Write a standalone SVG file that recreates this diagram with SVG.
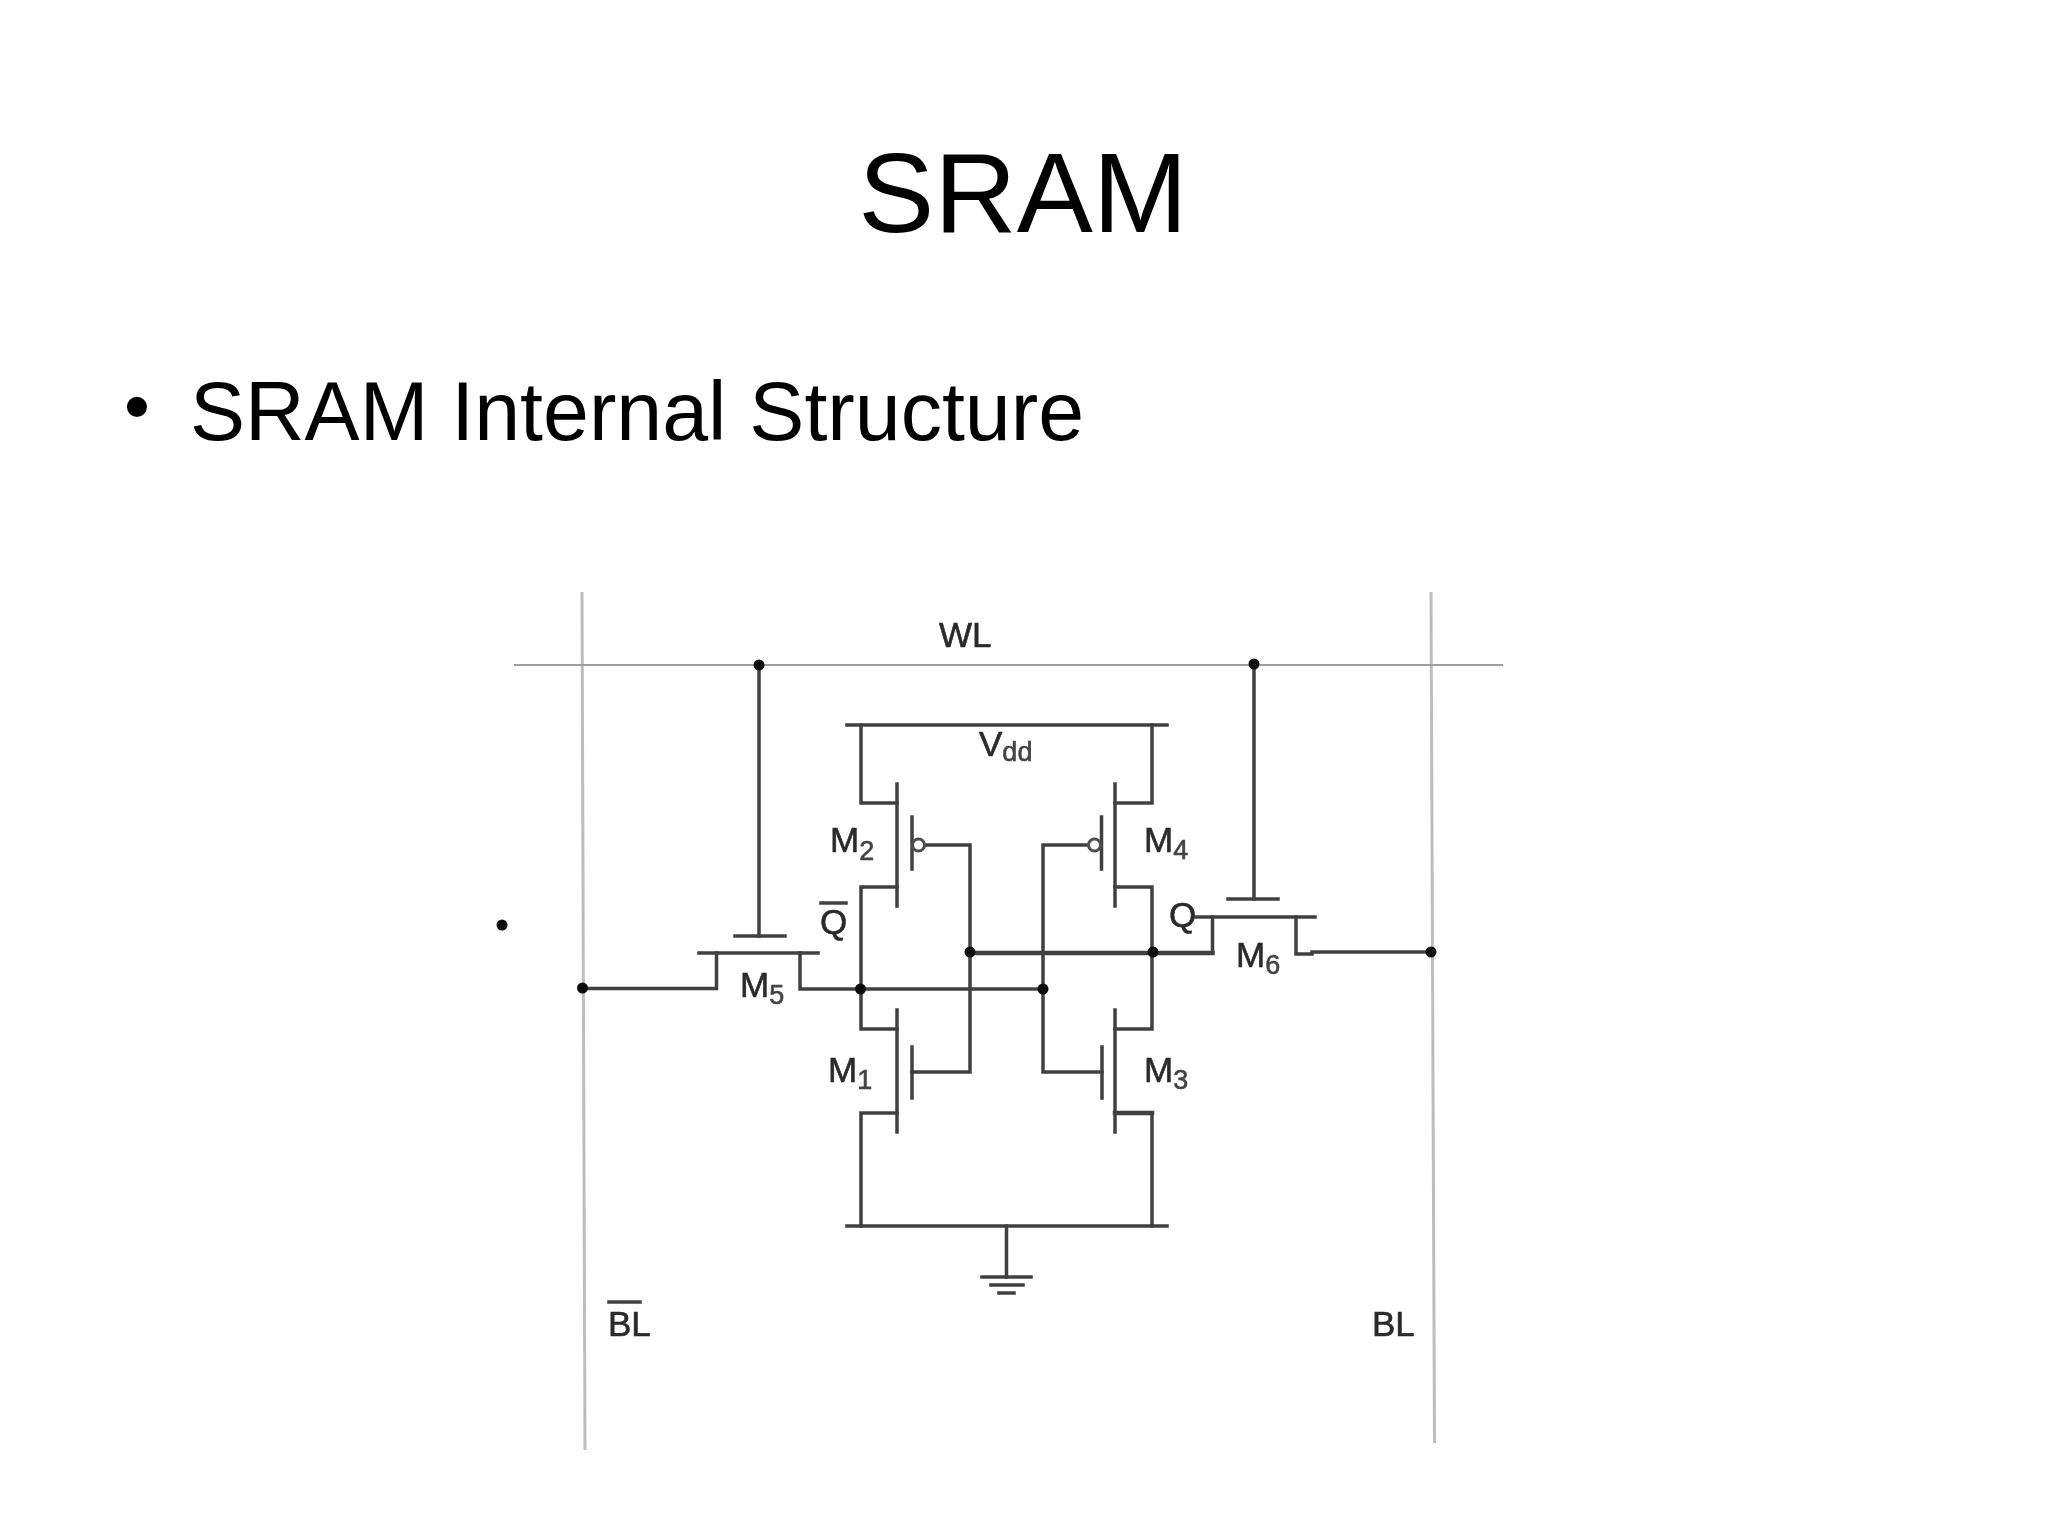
<svg xmlns="http://www.w3.org/2000/svg" width="2048" height="1535" viewBox="0 0 2048 1535">
<defs>
<filter id="soft" x="-5%" y="-5%" width="110%" height="110%"><feGaussianBlur stdDeviation="0.6"/></filter>
<circle id="dot" r="5.5" fill="#111"/>
</defs>
<style>
text{font-family:"Liberation Sans",Arial,sans-serif}
.title{font-size:114px;fill:#000;text-anchor:middle}
.body{font-size:82.500px;fill:#000}
.bullet{font-size:74px;fill:#000}
.lab{font-size:35px;fill:#2a2a2a;stroke:#2a2a2a;stroke-width:0.6}
.sub{font-size:27px;fill:#444;stroke:#444}
.w{fill:none;stroke:#404040;stroke-width:3.500;stroke-linecap:square}
.thick{stroke-width:4.500}
.bit{fill:none;stroke:#bdbdbd;stroke-width:3}
.wl{fill:none;stroke:#a0a0a0;stroke-width:2}
.bubble{fill:#fff;stroke:#505050;stroke-width:3}
</style>
<rect width="2048" height="1535" fill="#fff"/>
<g id="heading">
<text class="title" x="1023" y="232">SRAM</text>
<text class="bullet" x="124" y="432">•</text>
<text class="body" x="190" y="440">SRAM Internal Structure</text>
</g>
<g filter="url(#soft)">
<g id="connectors">
<path class="bit" d="M582 592L585 1450"/>
<path class="bit" d="M1431 592L1434.500 1443"/>
<path class="wl" d="M514 665H1503"/>
<path class="w" d="M759 665V936"/>
<path class="w" d="M1254 664V899"/>
<path class="w" d="M582.500 988.500H716.500V953"/>
<path class="w" d="M800 953V989H1043"/>
<path class="w" d="M861 725V803H897"/>
<path class="w" d="M1152 725V803H1115"/>
<path class="w" d="M897 887H861V1029H897"/>
<path class="w" d="M1115 887H1152V1029H1115"/>
<path class="w" d="M897 1113H861V1226"/>
<path class="w thick" d="M1115 1113H1152"/>
<path class="w" d="M1152 1113V1226"/>
<path class="w" d="M925 845H970V1072H912"/>
<path class="w" d="M1088 845H1043V1072H1102"/>
<path class="w thick" d="M970 953H1212.500"/>
<path class="w" d="M1212.500 953V917"/>
<path class="w" d="M1296 917V954H1312"/>
<path class="w" d="M1312 952H1431"/>
<path class="w" d="M1006.500 1226V1277"/>
</g>
<g id="wl-label"><text class="lab" x="939" y="647">WL</text></g>
<g id="blbar-label"><text class="lab" x="608" y="1336">BL</text><path class="w" d="M609 1302H640"/></g>
<g id="bl-label"><text class="lab" x="1372" y="1336">BL</text></g>
<g id="vdd">
<path class="w" d="M847 725H1167"/>
<text class="lab" x="979" y="756">V<tspan class="sub" dy="5">dd</tspan></text>
</g>
<g id="ground">
<path class="w" d="M847 1226H1167"/>
<path class="w" d="M982 1277H1031M991 1285H1023M999 1293H1014"/>
</g>
<g id="M1">
<path class="w" d="M897 1010V1132M912 1047V1098"/>
<text class="lab" x="828" y="1082">M<tspan class="sub" dy="7">1</tspan></text>
</g>
<g id="M2">
<path class="w" d="M897 784V906M912 817V869"/>
<circle class="bubble" cx="918.500" cy="845" r="6"/>
<text class="lab" x="830" y="852">M<tspan class="sub" dy="8">2</tspan></text>
</g>
<g id="M3">
<path class="w" d="M1115 1010V1132M1102 1047V1098"/>
<text class="lab" x="1144" y="1082">M<tspan class="sub" dy="7">3</tspan></text>
</g>
<g id="M4">
<path class="w" d="M1115 784V906M1101.500 817V869"/>
<circle class="bubble" cx="1094.500" cy="845" r="6"/>
<text class="lab" x="1144" y="852">M<tspan class="sub" dy="7">4</tspan></text>
</g>
<g id="M5">
<path class="w" d="M735 936H785M699 953H818"/>
<text class="lab" x="740" y="997">M<tspan class="sub" dy="7">5</tspan></text>
</g>
<g id="M6">
<path class="w" d="M1228 899H1278M1196 917H1315"/>
<text class="lab" x="1236" y="967">M<tspan class="sub" dy="7">6</tspan></text>
</g>
<g id="Qbar-label"><text class="lab" x="820" y="934">Q</text><path class="w" d="M821 903H846"/></g>
<g id="Q-label"><text class="lab" x="1169" y="927">Q</text></g>
<g id="junctions">
<use href="#dot" x="759" y="665"/>
<use href="#dot" x="1254" y="664"/>
<use href="#dot" x="582.500" y="988"/>
<use href="#dot" x="860.500" y="989"/>
<use href="#dot" x="1043" y="989"/>
<use href="#dot" x="970" y="952"/>
<use href="#dot" x="1153" y="952"/>
<use href="#dot" x="1431" y="952"/>
<use href="#dot" x="502" y="925"/>
</g>
</g>
</svg>
